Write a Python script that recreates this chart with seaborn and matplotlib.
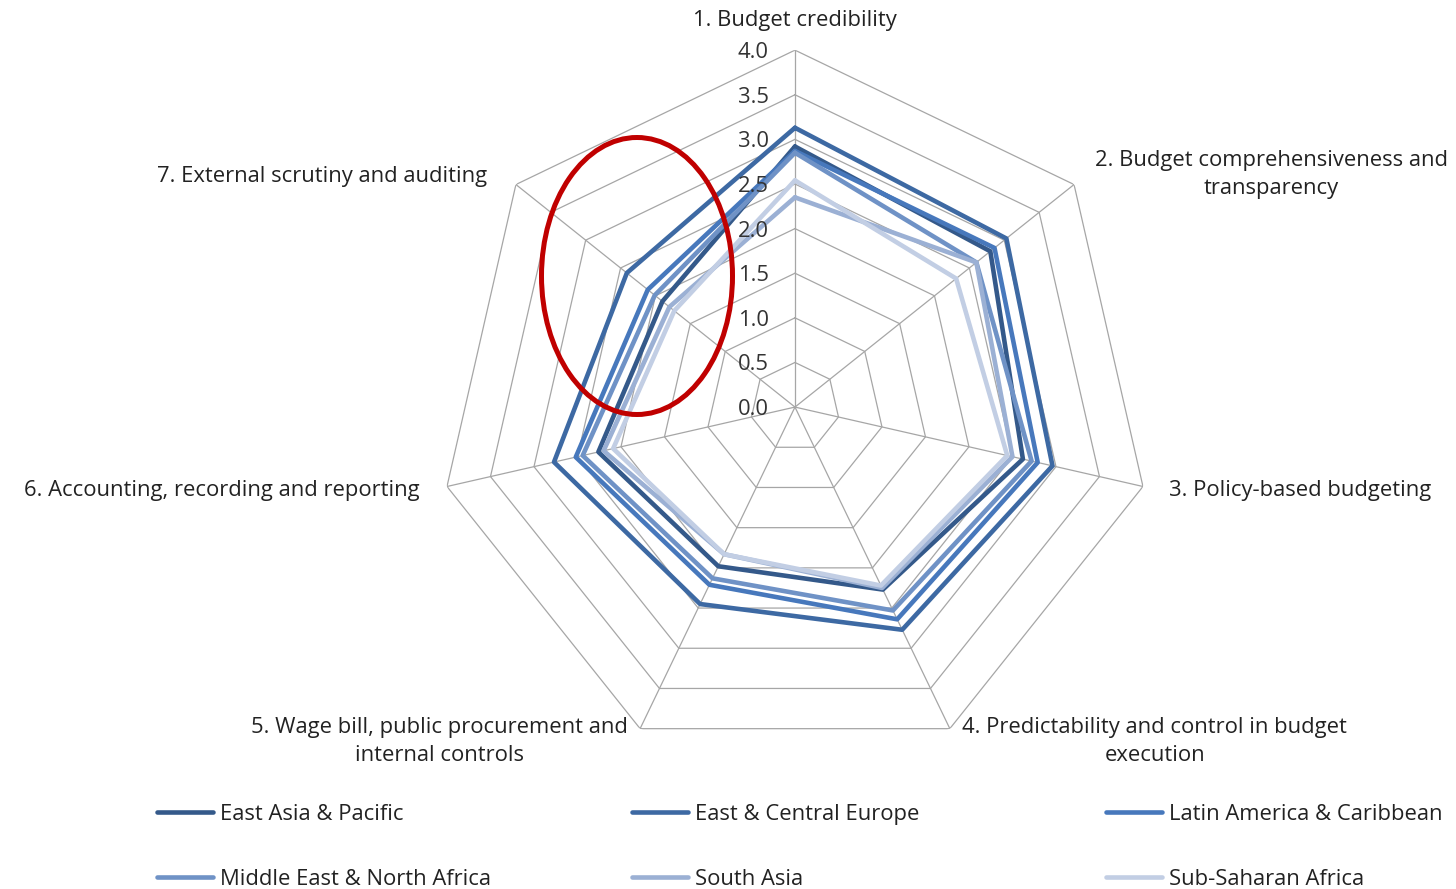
import numpy as np
import pandas as pd
import seaborn as sns
import matplotlib.pyplot as plt
from matplotlib.patches import Ellipse

# PEFA-style dimension scores by region
dimensions = [
    "1. Budget credibility",
    "2. Budget comprehensiveness and\ntransparency",
    "3. Policy-based budgeting",
    "4. Predictability and control in budget\nexecution",
    "5. Wage bill, public procurement and\ninternal controls",
    "6. Accounting, recording and reporting",
    "7. External scrutiny and auditing",
]
regions = [
    "East Asia & Pacific",
    "East & Central Europe",
    "Latin America & Caribbean",
    "Middle East & North Africa",
    "South Asia",
    "Sub-Saharan Africa",
]
east_asia_pacific = [2.92, 2.80, 2.62, 2.27, 1.98, 2.26, 1.90]
east_central_europe = [3.13, 3.03, 2.96, 2.77, 2.45, 2.77, 2.41]
latin_america = [2.87, 2.86, 2.79, 2.64, 2.21, 2.52, 2.11]
middle_east = [2.85, 2.60, 2.72, 2.53, 2.13, 2.44, 2.01]
south_asia = [2.35, 2.60, 2.50, 2.25, 1.83, 2.20, 1.80]
sub_saharan = [2.54, 2.31, 2.44, 2.22, 1.83, 2.09, 1.73]
colors = ["#34598A", "#3D69A3", "#4778BC", "#6F92C6", "#9BB0D4", "#C2CEE4"]
ticks = [0.0, 0.5, 1.0, 1.5, 2.0, 2.5, 3.0, 3.5, 4.0]

series = [east_asia_pacific, east_central_europe, latin_america,
          middle_east, south_asia, sub_saharan]
n = len(dimensions)
angles = np.linspace(0, 2 * np.pi, n, endpoint=False)
closed = np.append(angles, 2 * np.pi)

rows = []
for name, vals in zip(regions, series):
    for a, v in zip(closed, vals + vals[:1]):
        rows.append({"angle": a, "score": v, "region": name})
df = pd.DataFrame(rows)

sns.set_theme(style="white")
plt.rcParams["font.family"] = ["Open Sans", "DejaVu Sans"]
FS = 15.8

fig = plt.figure(figsize=(14.56, 8.89), dpi=100)
ax = fig.add_axes([0.3008, 0.1406, 0.4904, 0.803], projection="polar")
ax.set_theta_zero_location("N")
ax.set_theta_direction(-1)
ax.grid(False)
ax.spines["polar"].set_visible(False)
ax.set_xticks([])
ax.set_yticks([])
ax.set_ylim(0, 4)

# heptagonal grid
for r in ticks[1:]:
    ax.plot(closed, [r] * len(closed), color="#A6A6A6", lw=0.9, zorder=1)
for a in angles:
    ax.plot([a, a], [0, 4], color="#A6A6A6", lw=0.9, zorder=1)

sns.lineplot(data=df, x="angle", y="score", hue="region", hue_order=regions,
             palette=colors, sort=False, estimator=None, lw=3.3, ax=ax,
             legend=False, zorder=3)
ax.set_xlabel("")
ax.set_ylabel("")

for t in ticks:
    ax.annotate(f"{t:.1f}", xy=(0, t), xytext=(-19, -1.8), textcoords="offset points",
                ha="right", va="center", fontsize=FS, color="#333333", zorder=4)

offsets = [(0, 21.5, "center"), (15, 7, "left"), (19, -3, "left"), (9, -9.5, "left"),
           (-9, -9.5, "right"), (-20, -3, "right"), (-21, 6, "right")]
for a, label, (dx, dy, ha) in zip(angles, dimensions, offsets):
    ax.annotate(label, xy=(a, 4), xytext=(dx, dy), textcoords="offset points",
                ha=ha, va="center", multialignment="center", fontsize=FS,
                linespacing=1.45, color="#222222", annotation_clip=False)

# red highlight ellipse
fig.patches.append(Ellipse((637 / 1456, 1 - 276 / 889), 191 / 1456, 277 / 889,
                           transform=fig.transFigure, fill=False,
                           edgecolor="#C00000", lw=3.6, zorder=10))

# legend: three equal-width columns
handles = [plt.Line2D([], [], color=c, lw=3.3) for c in colors]
col_x = [157, 632, 1106]
for i, x in enumerate(col_x):
    leg = fig.legend([handles[i], handles[i + 3]], [regions[i], regions[i + 3]],
                     loc="upper left", bbox_to_anchor=(x / 1456, 1 - 804 / 889),
                     frameon=False, fontsize=FS, borderpad=0, borderaxespad=0,
                     handlelength=2.55, handletextpad=0.3, labelspacing=2.0)
    for txt in leg.get_texts():
        txt.set_color("#222222")

fig.savefig("out.png", dpi=100)
